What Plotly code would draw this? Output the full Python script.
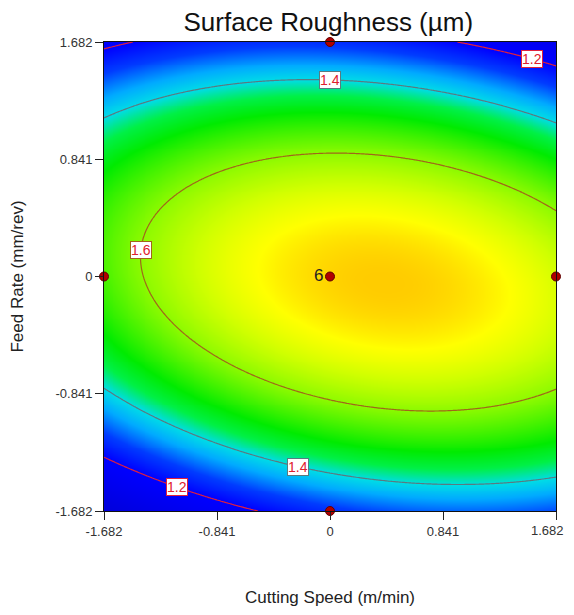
import numpy as np
import plotly.graph_objects as go

# Fitted quadratic response-surface coefficients (coded units)
b0, b1, b2, b12, b11, b22 = 1.730, 0.0333, 0.0, -0.0332, -0.0434, -0.166

tick_vals = [-1.682, -0.841, 0, 0.841, 1.682]
tick_text = ["-1.682", "-0.841", "0", "0.841", "1.682"]
# last x label drawn separately so it stays inside the page edge
x_tick_text = tick_text[:-1] + [""]

levels = [1.2, 1.4, 1.6]
level_colors = ["#e0203c", "#5a7a80", "#a0661a"]

design_x = [0, 0, -1.682, 1.682, 0]
design_y = [1.682, -1.682, 0, 0, 0]
design_text = ["", "", "", "", "6"]

# label anchors: (level, fixed coordinate value, which axis fixed, branch)
label_specs = [(1.2, 1.50, "x", "upper"), (1.4, 0.0, "x", "upper"),
               (1.6, 0.19, "y", "lower"), (1.4, -0.24, "x", "lower"),
               (1.2, -1.14, "x", "lower")]

def model(x, y):
    return b0 + b1 * x + b2 * y + b12 * x * y + b11 * x ** 2 + b22 * y ** 2

g = np.linspace(-1.682, 1.682, 241)
X, Y = np.meshgrid(g, g)
Z = model(X, Y)

colorscale = [
    [0.000, "rgb(0,0,220)"],
    [0.250, "rgb(0,0,255)"],
    [0.350, "rgb(0,60,255)"],
    [0.4375, "rgb(0,170,255)"],
    [0.500, "rgb(0,220,230)"],
    [0.5625, "rgb(0,240,70)"],
    [0.625, "rgb(0,235,0)"],
    [0.750, "rgb(140,250,0)"],
    [0.825, "rgb(210,255,0)"],
    [0.875, "rgb(255,255,0)"],
    [0.91875, "rgb(255,205,0)"],
    [1.000, "rgb(255,150,0)"],
]

fig = go.Figure()
fig.add_trace(go.Heatmap(x=g, y=g, z=Z, colorscale=colorscale, zmin=1.0, zmax=1.8,
                         zsmooth="best", showscale=False, hoverinfo="skip"))
for lv, col in zip(levels, level_colors):
    fig.add_trace(go.Contour(x=g, y=g, z=Z, showscale=False, hoverinfo="skip",
                             contours=dict(start=lv, end=lv, size=1, coloring="none"),
                             line=dict(color=col, width=1.2)))

fig.add_trace(go.Scatter(x=design_x, y=design_y, mode="markers+text", text=design_text,
                         textposition="middle left",
                         textfont=dict(family="Arial, Liberation Sans", size=17, color="#222"),
                         marker=dict(size=9, color="#b00000", line=dict(color="#600000", width=1)),
                         cliponaxis=False, hoverinfo="skip", showlegend=False))

def solve(level, val, axis, branch):
    if axis == "x":
        x = val
        a, b, c = b22, b2 + b12 * x, b0 + b1 * x + b11 * x ** 2 - level
    else:
        y = val
        a, b, c = b11, b1 + b12 * y, b0 + b2 * y + b22 * y ** 2 - level
    d = np.sqrt(b * b - 4 * a * c)
    r = sorted([(-b + d) / (2 * a), (-b - d) / (2 * a)])
    v = r[1] if branch == "upper" else r[0]
    return (x, v) if axis == "x" else (v, y)

for lv, val, axis, br in label_specs:
    px, py = solve(lv, val, axis, br)
    col = level_colors[levels.index(lv)]
    fig.add_annotation(x=px, y=py, text=str(lv), showarrow=False,
                       font=dict(family="Arial, Liberation Sans", size=14, color="#e0202c"),
                       bgcolor="white", bordercolor=col, borderwidth=1, borderpad=0)

# right-most x tick label
fig.add_annotation(x=tick_vals[-1], xref="x", y=0, yref="paper", text=tick_text[-1],
                   showarrow=False, xanchor="right", yanchor="top", xshift=10, yshift=-10,
                   font=dict(family="Arial, Liberation Sans", size=13, color="#333"))

axis_common = dict(range=[-1.682, 1.682], tickvals=tick_vals,
                   ticks="outside", ticklen=8, tickcolor="#222", showgrid=False,
                   zeroline=False, showline=True, linecolor="#111", linewidth=1, mirror=True,
                   ticklabeloverflow="allow", automargin=False,
                   tickfont=dict(family="Arial, Liberation Sans", size=13, color="#333"))

fig.update_layout(
    width=558, height=599,
    margin=dict(l=96, r=10, t=34, b=96),
    paper_bgcolor="white", plot_bgcolor="white",
    showlegend=False,
    title=dict(text="Surface Roughness (µm)", x=0.574, xanchor="center", y=0.976, yanchor="middle",
               font=dict(family="Arial, Liberation Sans", size=26, color="#111")),
    xaxis=dict(axis_common, ticktext=x_tick_text,
               title=dict(text="Cutting Speed (m/min)", standoff=58,
                          font=dict(family="Arial, Liberation Sans", size=17, color="#222"))),
    yaxis=dict(axis_common, ticktext=tick_text,
               title=dict(text="Feed Rate (mm/rev)", standoff=27,
                          font=dict(family="Arial, Liberation Sans", size=17, color="#222"))),
)

fig.write_html("out.html")
